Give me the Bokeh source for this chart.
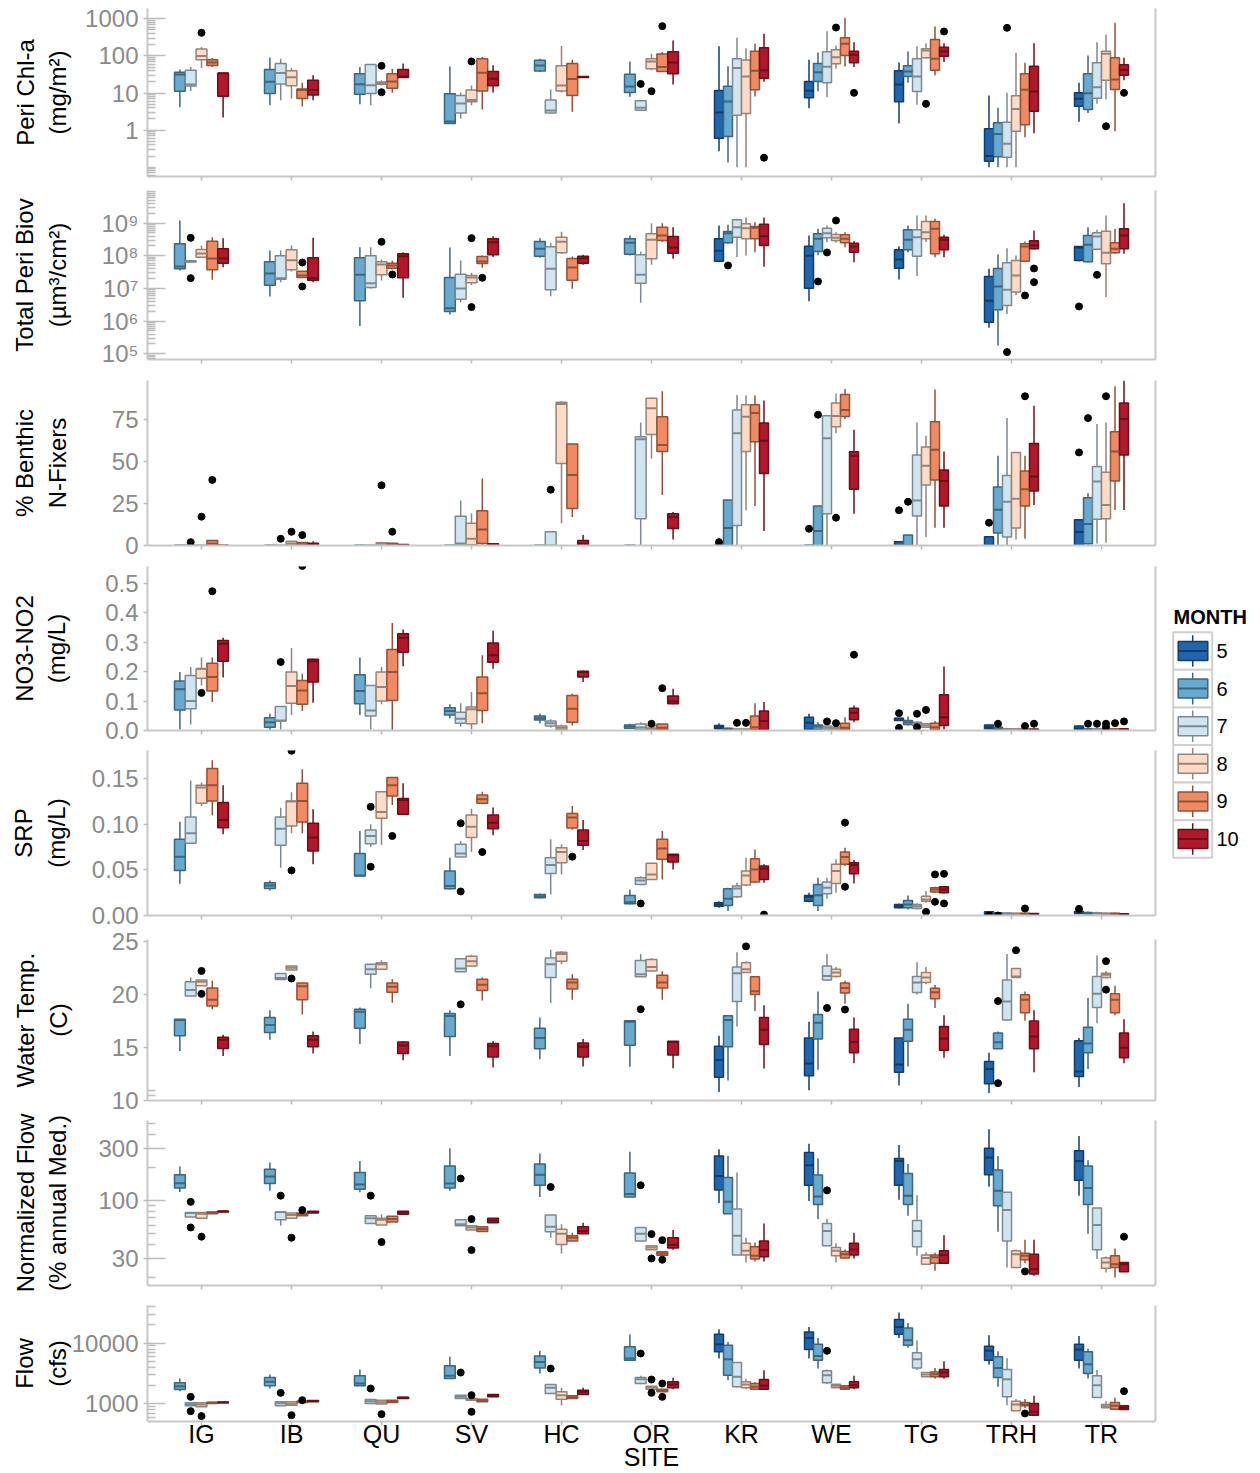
import numpy as np
from bokeh.plotting import figure
from bokeh.layouts import column, row
from bokeh.models import Range1d, FixedTicker, LinearAxis, ColumnDataSource
from bokeh.embed import file_html
from bokeh.resources import INLINE
from bokeh.core.properties import value

SITES = ["IG", "IB", "QU", "SV", "HC", "OR", "KR", "WE", "TG", "TRH", "TR"]
MONTHS = [5, 6, 7, 8, 9, 10]
MONTH_FILL = ["#2166ac", "#67a9cf", "#d1e5f0", "#fddbc7", "#ef8a62", "#b2182b"]

# rows: (site, month, whisker_low, q1, median, q3, whisker_high)
CHLA = [
    ("IG", 6, 4.1, 11.2, 31.5, 36.4, 43), ("IG", 7, 11.4, 15.5, 16.9, 41, 50), ("IG", 8, 47, 79, 99, 153, 173),
    ("IG", 9, 50, 55, 66, 79, 88), ("IG", 10, 2.2, 8.2, 34, 34, 34),
    ("IB", 6, 4.7, 9.7, 20, 42.7, 90), ("IB", 7, 6.4, 17.6, 34.8, 62, 84), ("IB", 8, 7.1, 15.8, 26.5, 40, 47),
    ("IB", 9, 4.3, 7.1, 12.1, 12.9, 19), ("IB", 10, 6.4, 8.9, 12, 22, 30),
    ("QU", 6, 5.0, 9.3, 17.2, 33, 50), ("QU", 7, 4.7, 9.7, 16.2, 59, 59), ("QU", 8, 16, 17.2, 18.7, 19.9, 22),
    ("QU", 9, 10.1, 13.5, 20.3, 33, 45), ("QU", 10, 26, 26, 28, 42.7, 62),
    ("SV", 6, 1.45, 1.5, 1.7, 9.5, 52), ("SV", 7, 2.06, 2.9, 5.2, 8.5, 10.3), ("SV", 8, 4.7, 5.8, 6.5, 12.1, 16),
    ("SV", 9, 3.6, 11.4, 35, 84, 93), ("SV", 10, 10.3, 15.6, 24.4, 38, 56),
    ("HC", 6, 37, 39, 55, 76, 84), ("HC", 7, 2.75, 2.87, 3.38, 6.5, 12.4), ("HC", 8, 10.3, 11.4, 16, 54, 185),
    ("HC", 9, 3.1, 8.5, 24, 62, 79), ("HC", 10, 26, 26, 27, 28, 28),
    ("OR", 6, 7.9, 10.3, 15, 32, 71), ("OR", 7, 3.45, 3.45, 4.0, 6.2, 6.2), ("OR", 8, 41, 45, 71, 84, 115),
    ("OR", 9, 38, 38, 50, 112, 127), ("OR", 10, 17, 33, 66, 130, 262),
    ("KR", 5, 0.27, 0.6, 3.0, 11.6, 182), ("KR", 6, 0.134, 0.67, 5.9, 15.2, 53), ("KR", 7, 0.1, 2.5, 47, 84, 308),
    ("KR", 8, 0.1, 2.8, 28, 77, 161), ("KR", 9, 8, 12.2, 40, 134, 212), ("KR", 10, 20, 25, 41, 165, 394),
    ("WE", 5, 3.9, 7.4, 11.5, 20.4, 79), ("WE", 6, 11.2, 20.4, 36, 62, 124), ("WE", 7, 7.7, 18.8, 51, 129, 463),
    ("WE", 8, 45, 61, 92, 146, 191), ("WE", 9, 52, 103, 212, 308, 1064), ("WE", 10, 50, 65, 107, 134, 234),
    ("TG", 5, 1.5, 5.8, 17, 40, 66), ("TG", 6, 19, 28, 38, 54, 131), ("TG", 7, 4.8, 11, 28, 84, 182),
    ("TG", 8, 85, 89, 140, 155, 220), ("TG", 9, 30, 41, 84, 277, 620), ("TG", 10, 68, 98, 131, 172, 220),
    ("TRH", 5, 0.1, 0.145, 0.2, 1.08, 8.6), ("TRH", 6, 0.1, 0.19, 0.79, 1.57, 4.0), ("TRH", 7, 0.1, 0.186, 0.43, 1.63, 10.1),
    ("TRH", 8, 0.1, 0.93, 3.7, 8.4, 121), ("TRH", 9, 0.64, 1.39, 12.2, 33, 65), ("TRH", 10, 0.82, 3.2, 11, 53, 220),
    ("TR", 5, 1.67, 4.4, 7, 10.1, 18.8), ("TR", 6, 2.9, 3.6, 9.9, 33, 103), ("TR", 7, 5.1, 7.2, 14.3, 65, 234),
    ("TR", 8, 6.7, 22, 114, 134, 370), ("TR", 9, 0.93, 12.4, 23, 89, 780), ("TR", 10, 22, 30, 42, 58, 89),
]
CHLA_OUT = [
    ("IG", 8, 420), ("QU", 8, 54), ("QU", 8, 10.5), ("SV", 8, 71), ("OR", 7, 17.6), ("OR", 8, 11.2),
    ("OR", 9, 635), ("KR", 10, 0.18), ("WE", 8, 582), ("WE", 10, 10.1), ("TG", 8, 5.1), ("TG", 10, 455),
    ("TRH", 7, 572), ("TR", 8, 1.27), ("TR", 10, 10.1),
]

# biovolume given as log10(um3/cm2)
BIOV_LOG10 = [
    ("IG", 6, 7.551, 7.602, 7.673, 8.367, 9.082), ("IG", 7, 7.81, 7.81, 7.837, 7.85, 7.85),
    ("IG", 8, 7.93, 7.959, 8.071, 8.194, 8.316), ("IG", 9, 7.265, 7.571, 7.918, 8.449, 8.571),
    ("IG", 10, 7.653, 7.776, 7.918, 8.214, 8.541),
    ("IB", 6, 6.755, 7.102, 7.459, 7.816, 8.163), ("IB", 7, 7.194, 7.286, 7.316, 8.0, 8.163),
    ("IB", 8, 7.52, 7.571, 7.867, 8.184, 8.316), ("IB", 9, 7.337, 7.337, 7.398, 7.531, 7.531),
    ("IB", 10, 7.194, 7.255, 7.316, 7.939, 8.551),
    ("QU", 6, 5.847, 6.622, 7.418, 7.939, 8.265), ("QU", 7, 6.99, 7.031, 7.163, 8.0, 8.265),
    ("QU", 8, 7.245, 7.418, 7.735, 7.816, 7.888), ("QU", 9, 7.58, 7.622, 7.704, 7.776, 7.847),
    ("QU", 10, 6.714, 7.327, 7.99, 8.061, 8.112),
    ("SV", 6, 6.204, 6.296, 6.398, 7.337, 8.255), ("SV", 7, 6.58, 6.673, 7.0, 7.439, 7.857),
    ("SV", 8, 7.1, 7.173, 7.337, 7.398, 7.48), ("SV", 9, 7.633, 7.765, 7.827, 7.98, 8.01),
    ("SV", 10, 7.96, 8.031, 8.418, 8.52, 8.602),
    ("HC", 6, 7.94, 7.99, 8.214, 8.439, 8.541), ("HC", 7, 6.765, 6.959, 7.602, 8.276, 8.398),
    ("HC", 8, 8.06, 8.092, 8.429, 8.571, 8.735), ("HC", 9, 6.99, 7.255, 7.643, 7.918, 7.98),
    ("HC", 10, 7.73, 7.776, 7.929, 7.99, 8.03),
    ("OR", 6, 8.01, 8.051, 8.398, 8.52, 8.62), ("OR", 7, 6.561, 7.163, 7.418, 8.031, 8.133),
    ("OR", 8, 7.724, 7.908, 8.49, 8.673, 9.0), ("OR", 9, 8.42, 8.469, 8.622, 8.878, 9.0),
    ("OR", 10, 7.908, 8.082, 8.255, 8.592, 8.878),
    ("KR", 5, 7.8, 7.837, 8.153, 8.52, 8.929), ("KR", 6, 8.367, 8.398, 8.694, 8.745, 8.949),
    ("KR", 7, 7.96, 8.571, 8.878, 9.102, 9.133), ("KR", 8, 8.01, 8.52, 8.847, 8.98, 9.184),
    ("KR", 9, 8.11, 8.52, 8.857, 8.898, 9.03), ("KR", 10, 7.663, 8.316, 8.602, 8.969, 9.173),
    ("WE", 5, 6.612, 7.01, 8.0, 8.296, 8.622), ("WE", 6, 8.02, 8.133, 8.52, 8.673, 8.827),
    ("WE", 7, 8.42, 8.551, 8.694, 8.847, 8.929), ("WE", 8, 8.4, 8.469, 8.551, 8.653, 8.72),
    ("WE", 9, 8.265, 8.398, 8.52, 8.643, 8.724), ("WE", 10, 7.806, 8.112, 8.286, 8.388, 8.449),
    ("TG", 5, 7.276, 7.622, 7.888, 8.184, 8.296), ("TG", 6, 8.11, 8.184, 8.49, 8.796, 8.929),
    ("TG", 7, 7.378, 7.99, 8.571, 8.796, 9.235), ("TG", 8, 8.42, 8.52, 8.724, 9.051, 9.235),
    ("TG", 9, 7.959, 8.061, 8.827, 9.051, 9.133), ("TG", 10, 7.959, 8.184, 8.49, 8.571, 8.643),
    ("TRH", 5, 5.796, 5.969, 6.622, 7.367, 7.602), ("TRH", 6, 5.255, 6.347, 7.061, 7.612, 8.041),
    ("TRH", 7, 6.22, 6.48, 6.959, 7.786, 8.235), ("TRH", 8, 6.79, 6.888, 7.398, 7.857, 8.01),
    ("TRH", 9, 7.8, 7.837, 8.286, 8.367, 8.44), ("TRH", 10, 8.19, 8.214, 8.316, 8.459, 8.776),
    ("TR", 5, 7.83, 7.857, 8.255, 8.286, 8.286), ("TR", 6, 7.79, 7.816, 8.337, 8.622, 8.878),
    ("TR", 7, 8.17, 8.204, 8.592, 8.704, 8.8), ("TR", 8, 6.735, 7.755, 8.092, 8.755, 9.235),
    ("TR", 9, 8.06, 8.092, 8.214, 8.398, 8.827), ("TR", 10, 8.061, 8.214, 8.622, 8.827, 9.612),
]
BIOV_OUT_LOG10 = [
    ("IG", 7, 8.551), ("IG", 7, 7.316), ("IB", 9, 7.796), ("IB", 9, 7.061), ("QU", 8, 8.429), ("QU", 9, 7.429),
    ("SV", 8, 6.429), ("SV", 8, 8.541), ("SV", 9, 7.327), ("KR", 6, 7.704), ("WE", 6, 7.214), ("WE", 7, 8.102),
    ("WE", 8, 9.082), ("TRH", 7, 5.051), ("TRH", 9, 6.786), ("TRH", 10, 7.612), ("TRH", 10, 7.194),
    ("TR", 5, 6.449), ("TR", 7, 7.418),
]

NFIX = [
    ("IG", 6, 0, 0, 0, 0, 0), ("IG", 7, 0, 0, 0, 0, 0), ("IG", 8, 0, 0, 0, 0, 0), ("IG", 9, 0, 0, 1, 3, 3), ("IG", 10, 0, 0, 0, 0, 0),
    ("IB", 6, 0, 0, 0, 0, 0), ("IB", 7, 0, 0, 0, 0, 0), ("IB", 8, 0, 0.4, 1.2, 2.6, 2.6), ("IB", 9, 0, 0.4, 0.8, 1.8, 1.8),
    ("IB", 10, 0, 0.4, 0.8, 1.4, 2.6),
    ("QU", 6, 0, 0, 0, 0, 0), ("QU", 7, 0, 0, 0, 0, 0), ("QU", 8, 0, 0, 1, 1.6, 2.2), ("QU", 9, 0, 0, 0.6, 1.4, 1.4),
    ("QU", 10, 0, 0, 0.3, 0.6, 0.6),
    ("SV", 6, 0, 0, 0, 0, 0), ("SV", 7, 0, 0.4, 1.2, 17.4, 26.9), ("SV", 8, 0, 0.4, 4.0, 13.2, 19.2),
    ("SV", 9, 0, 1.2, 9.6, 20.7, 39.9), ("SV", 10, 0, 0, 0.4, 1.0, 1.0),
    ("HC", 6, 0, 0, 0, 0, 0), ("HC", 7, 0, 0, 0, 8.2, 8.2), ("HC", 8, 13.2, 48.9, 84.4, 85.4, 86),
    ("HC", 9, 17, 22.1, 42.1, 60.6, 60.6), ("HC", 10, 0, 0.2, 1.0, 3.0, 6.2),
    ("OR", 6, 0, 0, 0, 0, 0), ("OR", 7, 0, 16, 63.4, 64.8, 73.4), ("OR", 8, 51.9, 66.2, 81.8, 87.8, 88.2),
    ("OR", 9, 30.1, 56.1, 59.9, 76.8, 92), ("OR", 10, 3.6, 10.2, 17.0, 19.0, 20),
    ("KR", 5, 0, 0, 0, 0, 0), ("KR", 6, 0, 0, 10.4, 27.1, 27.1), ("KR", 7, 0, 12, 67, 80.8, 89.8),
    ("KR", 8, 21, 56.1, 76.8, 84, 89.4), ("KR", 9, 23.5, 61.8, 79, 84, 89.4), ("KR", 10, 8.6, 42.9, 62.4, 73, 86.4),
    ("WE", 5, 0, 0, 0, 0, 0), ("WE", 6, 0, 0, 8.6, 23.5, 23.5), ("WE", 7, 0, 19, 64, 77.4, 78),
    ("WE", 8, 67, 70.8, 77.2, 85, 90.6), ("WE", 9, 75.4, 77, 80.8, 90, 93.4), ("WE", 10, 19, 33.5, 53.5, 55.9, 69),
    ("TG", 5, 0, 0, 0, 2.2, 2.2), ("TG", 6, 0, 0, 0, 6.2, 6.2), ("TG", 7, 0, 17.6, 26.9, 54, 73.4),
    ("TG", 8, 5, 36.1, 47.5, 58.7, 65.4), ("TG", 9, 10.6, 39.1, 57.1, 73.8, 93), ("TG", 10, 10.6, 23.5, 38.5, 45.1, 56),
    ("TRH", 5, 0, 0, 0, 5.2, 5.2), ("TRH", 6, 0, 7.4, 21.3, 34.9, 53.5), ("TRH", 7, 0, 5.0, 26.1, 41.7, 76),
    ("TRH", 8, 3.6, 10.4, 27.9, 55.5, 55.5), ("TRH", 9, 4.0, 23.5, 33.5, 44.5, 53.5), ("TRH", 10, 24.1, 32.5, 41.1, 60.8, 83.4),
    ("TR", 5, 0, 0, 8.0, 15.4, 15.4), ("TR", 6, 0, 1.0, 12.8, 28.5, 31.1), ("TR", 7, 1.2, 15.6, 38.1, 47.1, 72.4),
    ("TR", 8, 1.6, 16, 24.1, 43.7, 73.4), ("TR", 9, 21.1, 38.5, 56.1, 67.8, 95), ("TR", 10, 21.1, 54, 75.4, 85, 98.4),
]
NFIX_OUT = [
    ("IG", 7, 2.0), ("IG", 8, 17.2), ("IG", 9, 39.1), ("IB", 7, 4.0), ("IB", 8, 8.2), ("IB", 9, 6.2),
    ("QU", 8, 35.9), ("QU", 9, 8.2), ("HC", 7, 33.3), ("KR", 5, 2.0), ("WE", 5, 10.0), ("WE", 6, 78.0),
    ("WE", 8, 16.6), ("TG", 5, 21.0), ("TG", 6, 26.1), ("TRH", 5, 13.6), ("TRH", 9, 89.0), ("TR", 5, 55.5),
    ("TR", 6, 76.0), ("TR", 8, 89.0),
]

NO3 = [
    ("IG", 6, 0.003, 0.070, 0.140, 0.168, 0.199), ("IG", 7, 0.020, 0.074, 0.100, 0.187, 0.216),
    ("IG", 8, 0.153, 0.178, 0.210, 0.210, 0.248), ("IG", 9, 0.097, 0.134, 0.182, 0.229, 0.248),
    ("IG", 10, 0.180, 0.236, 0.295, 0.306, 0.316),
    ("IB", 6, 0.0, 0.011, 0.028, 0.043, 0.057), ("IB", 7, 0.003, 0.032, 0.034, 0.082, 0.082),
    ("IB", 8, 0.053, 0.093, 0.151, 0.199, 0.281), ("IB", 9, 0.066, 0.089, 0.136, 0.170, 0.193),
    ("IB", 10, 0.094, 0.165, 0.236, 0.242, 0.244),
    ("QU", 6, 0.053, 0.091, 0.134, 0.190, 0.248), ("QU", 7, 0.003, 0.049, 0.068, 0.153, 0.153),
    ("QU", 8, 0.089, 0.100, 0.148, 0.199, 0.216), ("QU", 9, 0.0, 0.102, 0.199, 0.276, 0.366),
    ("QU", 10, 0.219, 0.266, 0.316, 0.329, 0.344),
    ("SV", 6, 0.042, 0.053, 0.066, 0.077, 0.089), ("SV", 7, 0.014, 0.025, 0.040, 0.062, 0.093),
    ("SV", 8, 0.003, 0.023, 0.072, 0.080, 0.131), ("SV", 9, 0.025, 0.068, 0.127, 0.182, 0.256),
    ("SV", 10, 0.210, 0.232, 0.256, 0.298, 0.339),
    ("HC", 6, 0.025, 0.036, 0.042, 0.049, 0.057), ("HC", 7, 0.009, 0.015, 0.025, 0.032, 0.038),
    ("HC", 8, 0.0, 0.003, 0.009, 0.015, 0.020), ("HC", 9, 0.017, 0.028, 0.074, 0.119, 0.125),
    ("HC", 10, 0.165, 0.182, 0.199, 0.202, 0.204),
    ("OR", 6, 0.006, 0.008, 0.014, 0.019, 0.023), ("OR", 7, 0.0, 0.003, 0.010, 0.022, 0.028),
    ("OR", 8, 0.0, 0.003, 0.008, 0.017, 0.017), ("OR", 9, 0.0, 0.003, 0.009, 0.022, 0.022),
    ("OR", 10, 0.089, 0.091, 0.099, 0.117, 0.142),
    ("KR", 5, 0.003, 0.006, 0.011, 0.017, 0.025), ("KR", 6, 0.002, 0.003, 0.005, 0.008, 0.010),
    ("KR", 7, 0.001, 0.002, 0.003, 0.004, 0.006), ("KR", 8, 0.001, 0.002, 0.003, 0.004, 0.006),
    ("KR", 9, 0.0, 0.003, 0.011, 0.049, 0.093), ("KR", 10, 0.0, 0.003, 0.032, 0.066, 0.097),
    ("WE", 5, 0.0, 0.003, 0.026, 0.045, 0.057), ("WE", 6, 0.0, 0.003, 0.014, 0.019, 0.028),
    ("WE", 7, 0.001, 0.003, 0.009, 0.015, 0.017), ("WE", 8, 0.001, 0.003, 0.005, 0.011, 0.013),
    ("WE", 9, 0.0, 0.003, 0.009, 0.025, 0.045), ("WE", 10, 0.028, 0.037, 0.060, 0.076, 0.085),
    ("TG", 5, 0.034, 0.034, 0.040, 0.042, 0.042), ("TG", 6, 0.017, 0.020, 0.028, 0.034, 0.048),
    ("TG", 7, 0.015, 0.017, 0.023, 0.028, 0.030), ("TG", 8, 0.009, 0.011, 0.017, 0.023, 0.025),
    ("TG", 9, 0.0, 0.003, 0.011, 0.025, 0.032), ("TG", 10, 0.003, 0.017, 0.045, 0.122, 0.218),
    ("TRH", 5, 0.003, 0.006, 0.011, 0.019, 0.020), ("TRH", 6, 0.002, 0.003, 0.009, 0.011, 0.011),
    ("TRH", 7, 0.001, 0.003, 0.004, 0.006, 0.008), ("TRH", 8, 0.001, 0.002, 0.004, 0.005, 0.007),
    ("TRH", 9, 0.001, 0.002, 0.003, 0.004, 0.006), ("TRH", 10, 0.001, 0.002, 0.003, 0.004, 0.006),
    ("TR", 5, 0.002, 0.003, 0.008, 0.015, 0.017), ("TR", 6, 0.001, 0.003, 0.004, 0.005, 0.006),
    ("TR", 7, 0.001, 0.003, 0.004, 0.005, 0.006), ("TR", 8, 0.001, 0.003, 0.004, 0.005, 0.006),
    ("TR", 9, 0.001, 0.003, 0.004, 0.005, 0.006), ("TR", 10, 0.001, 0.003, 0.004, 0.005, 0.006),
]
NO3_OUT = [
    ("IG", 8, 0.128), ("IG", 9, 0.474), ("IB", 7, 0.233), ("IB", 9, 0.560), ("OR", 8, 0.023), ("OR", 9, 0.144),
    ("KR", 7, 0.026), ("KR", 8, 0.026), ("WE", 7, 0.031), ("WE", 8, 0.025), ("WE", 10, 0.258),
    ("TG", 5, 0.059), ("TG", 5, 0.009), ("TG", 7, 0.011), ("TG", 7, 0.057), ("TG", 8, 0.070),
    ("TRH", 6, 0.023), ("TRH", 9, 0.015), ("TRH", 10, 0.023), ("TR", 6, 0.023), ("TR", 7, 0.023),
    ("TR", 8, 0.023), ("TR", 8, 0.011), ("TR", 9, 0.025), ("TR", 10, 0.031),
]

SRP = [
    ("IG", 6, 0.0348, 0.0494, 0.0644, 0.0834, 0.1028), ("IG", 7, 0.079, 0.079, 0.090, 0.1079, 0.1475),
    ("IG", 8, 0.120, 0.1229, 0.1401, 0.1427, 0.1456), ("IG", 9, 0.1098, 0.1255, 0.1427, 0.161, 0.170),
    ("IG", 10, 0.0889, 0.0962, 0.1046, 0.1237, 0.1427),
    ("IB", 6, 0.0274, 0.0296, 0.0329, 0.0359, 0.0384), ("IB", 7, 0.0523, 0.0768, 0.0951, 0.1079, 0.118),
    ("IB", 8, 0.090, 0.0981, 0.1248, 0.1255, 0.135), ("IB", 9, 0.090, 0.1025, 0.1255, 0.1449, 0.1603),
    ("IB", 10, 0.056, 0.0706, 0.0853, 0.101, 0.1164),
    ("QU", 6, 0.0432, 0.0432, 0.0439, 0.068, 0.0926), ("QU", 7, 0.075, 0.0787, 0.0871, 0.0937, 0.100),
    ("QU", 8, 0.0772, 0.1065, 0.1134, 0.1354, 0.1354), ("QU", 9, 0.1211, 0.131, 0.1427, 0.1511, 0.1511),
    ("QU", 10, 0.1102, 0.1109, 0.1266, 0.128, 0.1449),
    ("SV", 6, 0.0286, 0.0293, 0.0322, 0.0487, 0.0633), ("SV", 7, 0.064, 0.064, 0.068, 0.0779, 0.0816),
    ("SV", 8, 0.0695, 0.0853, 0.0973, 0.1101, 0.117), ("SV", 9, 0.1218, 0.1229, 0.1273, 0.1321, 0.1354),
    ("SV", 10, 0.0878, 0.0951, 0.1017, 0.1101, 0.1182),
    ("HC", 6, 0.019, 0.0194, 0.0212, 0.023, 0.024), ("HC", 7, 0.023, 0.0461, 0.0552, 0.0633, 0.0834),
    ("HC", 8, 0.045, 0.0578, 0.0695, 0.0743, 0.078), ("HC", 9, 0.094, 0.0959, 0.1072, 0.1116, 0.120),
    ("HC", 10, 0.0717, 0.0768, 0.0816, 0.0937, 0.1046),
    ("OR", 6, 0.012, 0.0128, 0.0146, 0.022, 0.0285), ("OR", 7, 0.0333, 0.034, 0.0384, 0.0413, 0.043),
    ("OR", 8, 0.0388, 0.0395, 0.045, 0.0571, 0.0578), ("OR", 9, 0.0395, 0.0615, 0.0735, 0.0834, 0.0926),
    ("OR", 10, 0.0505, 0.0585, 0.0659, 0.067, 0.067),
    ("KR", 5, 0.0084, 0.0102, 0.0121, 0.0139, 0.0157), ("KR", 6, 0.0048, 0.011, 0.0183, 0.0293, 0.0304),
    ("KR", 7, 0.0194, 0.0205, 0.0296, 0.0322, 0.0359), ("KR", 8, 0.032, 0.0333, 0.0439, 0.0487, 0.0633),
    ("KR", 9, 0.0359, 0.0366, 0.0505, 0.0622, 0.0724), ("KR", 10, 0.0359, 0.0395, 0.0512, 0.0542, 0.056),
    ("WE", 5, 0.0146, 0.0157, 0.0205, 0.022, 0.0249), ("WE", 6, 0.0048, 0.011, 0.0223, 0.034, 0.0413),
    ("WE", 7, 0.0183, 0.0238, 0.0304, 0.0366, 0.0413), ("WE", 8, 0.0249, 0.0351, 0.0487, 0.056, 0.0615),
    ("WE", 9, 0.0542, 0.056, 0.064, 0.0695, 0.0743), ("WE", 10, 0.0351, 0.0457, 0.0552, 0.0578, 0.0607),
    ("TG", 5, 0.0077, 0.0084, 0.0102, 0.0121, 0.0132), ("TG", 6, 0.0066, 0.0084, 0.0121, 0.0165, 0.022),
    ("TG", 7, 0.0066, 0.0077, 0.0102, 0.0121, 0.0135), ("TG", 8, 0.0139, 0.0157, 0.0176, 0.0212, 0.0267),
    ("TG", 9, 0.0249, 0.0256, 0.0285, 0.0304, 0.0315), ("TG", 10, 0.0241, 0.0249, 0.0285, 0.0315, 0.0322),
    ("TRH", 5, 0.0008, 0.0011, 0.003, 0.004, 0.0045), ("TRH", 6, 0.0008, 0.0015, 0.0025, 0.003, 0.0035),
    ("TRH", 7, 0.0008, 0.0015, 0.002, 0.0028, 0.0033), ("TRH", 8, 0.0008, 0.0012, 0.002, 0.0026, 0.003),
    ("TRH", 9, 0.0006, 0.001, 0.0018, 0.0024, 0.003), ("TRH", 10, 0.0006, 0.001, 0.0015, 0.0022, 0.0028),
    ("TR", 5, 0.0015, 0.0022, 0.003, 0.0044, 0.005), ("TR", 6, 0.001, 0.0018, 0.0025, 0.0032, 0.0045),
    ("TR", 7, 0.001, 0.0018, 0.0025, 0.003, 0.004), ("TR", 8, 0.0008, 0.0012, 0.002, 0.0026, 0.0032),
    ("TR", 9, 0.0006, 0.001, 0.0018, 0.0026, 0.003), ("TR", 10, 0.0006, 0.001, 0.0015, 0.002, 0.0026),
]
SRP_OUT = [
    ("IB", 8, 0.1804), ("IB", 8, 0.0494), ("QU", 7, 0.119), ("QU", 7, 0.0534), ("QU", 9, 0.0871),
    ("SV", 7, 0.0263), ("SV", 7, 0.101), ("SV", 9, 0.0695), ("HC", 9, 0.0644), ("OR", 7, 0.0132),
    ("KR", 10, 0.001), ("WE", 9, 0.0315), ("WE", 9, 0.1017), ("TG", 8, 0.004), ("TG", 9, 0.045),
    ("TG", 9, 0.015), ("TG", 10, 0.0457), ("TG", 10, 0.0132), ("TRH", 5, 0.0), ("TRH", 6, 0.0),
    ("TRH", 9, 0.0077), ("TR", 5, 0.0073),
]

TEMP = [
    ("IG", 6, 14.64, 16.09, 17.58, 17.64, 17.64), ("IG", 7, 19.84, 19.84, 20.42, 21.20, 21.6),
    ("IG", 8, 20.82, 20.82, 21.20, 21.35, 21.35), ("IG", 9, 18.60, 18.91, 19.49, 20.61, 21.29),
    ("IG", 10, 14.18, 14.89, 15.72, 15.94, 16.19),
    ("IB", 6, 15.72, 16.40, 17.11, 17.82, 18.51), ("IB", 7, 21.41, 21.41, 21.54, 21.97, 21.97),
    ("IB", 8, 22.31, 22.31, 22.53, 22.68, 22.68), ("IB", 9, 18.1, 19.50, 20.76, 21.07, 21.07),
    ("IB", 10, 14.42, 15.04, 15.72, 16.09, 16.5),
    ("QU", 6, 15.32, 16.80, 18.35, 18.60, 18.75), ("QU", 7, 20.58, 21.91, 22.37, 22.84, 22.84),
    ("QU", 8, 22.37, 22.37, 22.84, 22.99, 23.24), ("QU", 9, 19.22, 20.21, 20.73, 21.07, 21.44),
    ("QU", 10, 13.77, 14.42, 15.17, 15.51, 15.6),
    ("SV", 6, 14.18, 16.03, 17.95, 18.20, 18.5), ("SV", 7, 22.15, 22.15, 22.46, 23.36, 23.36),
    ("SV", 8, 22.68, 22.68, 23.14, 23.61, 23.76), ("SV", 9, 19.43, 20.36, 20.92, 21.44, 21.6),
    ("SV", 10, 13.09, 14.08, 15.10, 15.35, 15.57),
    ("HC", 6, 13.87, 14.86, 15.88, 16.80, 17.82), ("HC", 7, 19.19, 21.6, 22.84, 23.45, 24.23),
    ("HC", 8, 22.84, 23.14, 23.82, 23.98, 24.07), ("HC", 9, 19.50, 20.51, 21.13, 21.44, 21.91),
    ("HC", 10, 13.19, 14.08, 15.04, 15.41, 15.78),
    ("OR", 6, 13.15, 15.20, 17.42, 17.52, 17.52), ("OR", 7, 21.66, 21.66, 21.91, 23.21, 23.82),
    ("OR", 8, 22.22, 22.22, 22.59, 23.30, 23.45), ("OR", 9, 19.50, 20.61, 21.13, 21.81, 22.2),
    ("OR", 10, 13.03, 14.27, 15.51, 15.57, 15.57),
    ("KR", 5, 10.77, 12.17, 13.80, 15.10, 16.09), ("KR", 6, 11.86, 15.04, 17.58, 17.98, 17.98),
    ("KR", 7, 16.96, 19.34, 22.0, 22.59, 23.98), ("KR", 8, 22.06, 22.06, 22.37, 22.99, 23.14),
    ("KR", 9, 18.44, 19.99, 20.30, 21.66, 21.66), ("KR", 10, 13.0, 15.26, 16.65, 17.82, 18.97),
    ("WE", 5, 10.93, 12.32, 13.46, 15.88, 17.42), ("WE", 6, 12.88, 15.78, 17.33, 18.10, 20.27),
    ("WE", 7, 21.29, 21.35, 21.75, 22.68, 23.82), ("WE", 8, 21.6, 21.69, 22.06, 22.37, 22.6),
    ("WE", 9, 19.12, 20.14, 20.61, 21.07, 21.29), ("WE", 10, 13.49, 14.48, 15.51, 16.71, 17.82),
    ("TG", 5, 11.39, 12.63, 13.37, 15.88, 15.88), ("TG", 6, 13.19, 15.57, 16.65, 17.64, 19.12),
    ("TG", 7, 20.0, 20.18, 21.13, 21.69, 23.05), ("TG", 8, 20.97, 21.13, 21.60, 22.06, 22.6),
    ("TG", 9, 18.72, 19.59, 20.21, 20.58, 20.9), ("TG", 10, 14.02, 14.73, 15.81, 16.96, 18.04),
    ("TRH", 5, 10.68, 11.55, 12.94, 13.65, 14.48), ("TRH", 6, 14.86, 14.86, 15.47, 16.34, 16.5),
    ("TRH", 7, 17.52, 17.58, 19.34, 21.35, 23.82), ("TRH", 8, 21.6, 21.60, 21.69, 22.46, 22.46),
    ("TRH", 9, 17.52, 18.26, 19.50, 19.96, 20.27), ("TRH", 10, 12.63, 14.86, 16.03, 17.48, 18.51),
    ("TR", 5, 11.24, 12.23, 12.72, 15.63, 15.88), ("TR", 6, 12.94, 14.48, 15.35, 16.90, 19.65),
    ("TR", 7, 17.27, 18.75, 20.05, 21.69, 23.67), ("TR", 8, 21.5, 21.6, 21.85, 22.0, 22.22),
    ("TR", 9, 18.04, 18.26, 19.50, 20.05, 20.82), ("TR", 10, 13.49, 14.02, 14.95, 16.34, 17.64),
]
TEMP_OUT = [
    ("IG", 8, 22.22), ("IG", 8, 20.05), ("IB", 8, 21.5), ("SV", 7, 19.06), ("OR", 7, 18.60), ("KR", 8, 24.54),
    ("WE", 7, 18.72), ("WE", 9, 18.57), ("TRH", 6, 11.61), ("TRH", 6, 19.37), ("TRH", 8, 24.17),
    ("TR", 8, 23.14), ("TR", 8, 20.45),
]

NFLOW = [
    ("IG", 6, 120, 130, 144, 172, 204), ("IG", 7, 71, 71, 77, 78, 78), ("IG", 8, 69, 69, 76, 78, 78),
    ("IG", 9, 76, 76, 78, 79, 79), ("IG", 10, 79, 79, 80, 80, 80),
    ("IB", 6, 123, 143, 166, 193, 222), ("IB", 7, 59, 67, 79, 79, 79), ("IB", 8, 69, 69, 74, 77, 77),
    ("IB", 9, 73, 73, 75, 77, 77), ("IB", 10, 77, 77, 79, 80, 80),
    ("QU", 6, 119, 127, 140, 180, 230), ("QU", 7, 62, 62, 69, 73, 73), ("QU", 8, 60, 60, 67, 69, 75),
    ("QU", 9, 64, 64, 68, 72, 72), ("QU", 10, 75, 75, 78, 80, 80),
    ("SV", 6, 123, 130, 143, 207, 300), ("SV", 7, 59, 59, 61, 67, 67), ("SV", 8, 54, 54, 57, 59, 59),
    ("SV", 9, 52.4, 52.4, 55.3, 58, 58), ("SV", 10, 63, 63, 66, 69, 69),
    ("HC", 6, 108, 138, 172, 215, 268), ("HC", 7, 46, 52, 58, 74, 74), ("HC", 8, 33, 40, 50, 55, 61),
    ("HC", 9, 43, 43, 46, 48, 51), ("HC", 10, 50, 50, 53, 58, 63),
    ("OR", 6, 108, 108, 115, 178, 278), ("OR", 7, 43, 43, 50, 57, 57), ("OR", 8, 35.7, 35.7, 37.5, 38.8, 38.8),
    ("OR", 9, 31.9, 31.9, 33, 34.3, 34.3), ("OR", 10, 35.7, 37, 39.6, 46, 54),
    ("KR", 5, 95, 125, 168, 255, 294), ("KR", 6, 76, 76, 97.5, 162, 255), ("KR", 7, 32, 32, 48, 84, 180),
    ("KR", 8, 27.4, 32, 35, 41, 46), ("KR", 9, 28, 29.4, 31.5, 38, 41.7), ("KR", 10, 28, 30.8, 35.5, 43, 62),
    ("WE", 5, 99.5, 138, 210, 274, 330), ("WE", 6, 68, 92, 109, 171, 242), ("WE", 7, 38.8, 38.8, 53, 62, 68),
    ("WE", 8, 27.4, 31.5, 35, 37.5, 41), ("WE", 9, 29.7, 30, 32.6, 34.5, 36), ("WE", 10, 29.7, 32, 36, 41, 51),
    ("TG", 5, 102, 138, 230, 242, 321), ("TG", 6, 73, 92, 111, 177, 215), ("TG", 7, 31.5, 38, 53, 66, 112),
    ("TG", 8, 26.4, 26.4, 30, 32, 34), ("TG", 9, 23, 27, 30.5, 32, 33.5), ("TG", 10, 27, 27, 32, 35, 48.5),
    ("TRH", 5, 134, 172, 247, 300, 447), ("TRH", 6, 52, 90, 123, 190, 255), ("TRH", 7, 24.7, 43, 82, 119, 119),
    ("TRH", 8, 24.7, 24.7, 32.6, 35, 36), ("TRH", 9, 27, 29, 31.5, 33.3, 44), ("TRH", 10, 20.7, 21.5, 23.8, 32.6, 44),
    ("TR", 5, 111, 153, 230, 284, 388), ("TR", 6, 50, 92, 130, 207, 233), ("TR", 7, 29.4, 35.7, 60, 85.5, 85.5),
    ("TR", 8, 22.2, 24.3, 27.4, 30, 31), ("TR", 9, 20, 24.7, 26.4, 31.5, 36.7), ("TR", 10, 22.5, 22.5, 26.4, 27.4, 27.4),
]
NFLOW_OUT = [
    ("IG", 7, 97.5), ("IG", 7, 57), ("IG", 8, 47), ("IB", 7, 111), ("IB", 8, 46), ("IB", 9, 82),
    ("QU", 7, 111), ("QU", 8, 42), ("SV", 7, 159), ("SV", 8, 68), ("SV", 8, 35.5), ("HC", 7, 133),
    ("OR", 7, 138), ("OR", 8, 49.6), ("OR", 8, 29.8), ("OR", 9, 43.7), ("OR", 9, 29), ("WE", 7, 124),
    ("TRH", 9, 22.7), ("TR", 10, 47),
]

FLOW = [
    ("IG", 6, 1618, 1722, 1954, 2218, 2618), ("IG", 7, 927, 927, 988, 1038, 1038), ("IG", 8, 893, 893, 975, 1038, 1038),
    ("IG", 9, 1011, 1011, 1040, 1064, 1064), ("IG", 10, 1038, 1038, 1055, 1070, 1070),
    ("IB", 6, 1790, 1982, 2307, 2716, 3048), ("IB", 7, 927, 927, 1025, 1080, 1080), ("IB", 8, 950, 950, 1005, 1080, 1080),
    ("IB", 9, 1052, 1052, 1080, 1107, 1107), ("IB", 10, 1080, 1080, 1110, 1134, 1134),
    ("QU", 6, 1982, 1982, 2163, 2896, 3683), ("QU", 7, 1011, 1011, 1107, 1177, 1177), ("QU", 8, 989, 989, 1064, 1146, 1146),
    ("QU", 9, 1052, 1052, 1107, 1146, 1146), ("QU", 10, 1225, 1225, 1260, 1289, 1289),
    ("SV", 6, 2618, 2618, 2896, 4230, 5957), ("SV", 7, 1225, 1225, 1303, 1390, 1390), ("SV", 8, 1146, 1146, 1190, 1225, 1225),
    ("SV", 9, 1080, 1080, 1134, 1190, 1190), ("SV", 10, 1303, 1303, 1355, 1426, 1426),
    ("HC", 6, 3162, 3917, 4921, 6180, 7485), ("HC", 7, 1479, 1479, 1837, 2084, 2084), ("HC", 8, 950, 1194, 1390, 1577, 1837),
    ("HC", 9, 1225, 1225, 1289, 1355, 1355), ("HC", 10, 1426, 1426, 1577, 1679, 1837),
    ("OR", 6, 5248, 5248, 5585, 8710, 13900), ("OR", 7, 2100, 2163, 2553, 2716, 2900), ("OR", 8, 1746, 1746, 1858, 1954, 1954),
    ("OR", 9, 1577, 1577, 1679, 1746, 1746), ("OR", 10, 1746, 1837, 2084, 2307, 2700),
    ("KR", 5, 5585, 7200, 9630, 14070, 17000), ("KR", 6, 2455, 2972, 5445, 9270, 10520), ("KR", 7, 1860, 1905, 2786, 4800, 4800),
    ("KR", 8, 1746, 1837, 2084, 2307, 2600), ("KR", 9, 1746, 1746, 1905, 2163, 2300), ("KR", 10, 1746, 1746, 1982, 2518, 3590),
    ("WE", 5, 5585, 7870, 12240, 15380, 18580), ("WE", 6, 3819, 5248, 6180, 9630, 12240), ("WE", 7, 2100, 2218, 2972, 3499, 3700),
    ("WE", 8, 1837, 1837, 1982, 2109, 2109), ("WE", 9, 1746, 1746, 1837, 1982, 1982), ("WE", 10, 1746, 1837, 2032, 2307, 2896),
    ("TG", 5, 12240, 14070, 18580, 24550, 32000), ("TG", 6, 8500, 9270, 11200, 17900, 21600), ("TG", 7, 3600, 3917, 5445, 6930, 11200),
    ("TG", 8, 2786, 2786, 3048, 3283, 3283), ("TG", 9, 2600, 2786, 3083, 3365, 3900), ("TG", 10, 2600, 2786, 3283, 3683, 5047),
    ("TRH", 5, 4450, 5248, 7485, 8930, 13550), ("TRH", 6, 1905, 2716, 3917, 5957, 7380), ("TRH", 7, 950, 1303, 2553, 3683, 5728),
    ("TRH", 8, 767, 767, 975, 1107, 1200), ("TRH", 9, 850, 927, 975, 1052, 1200), ("TRH", 10, 650, 650, 738, 1011, 1355),
    ("TR", 5, 3819, 5248, 7870, 9630, 13200), ("TR", 6, 2618, 3162, 4510, 7200, 8170), ("TR", 7, 1250, 1271, 2032, 2896, 3600),
    ("TR", 8, 850, 859, 916, 975, 1100), ("TR", 9, 800, 817, 927, 1052, 1256), ("TR", 10, 807, 807, 859, 927, 927),
]
FLOW_OUT = [
    ("IG", 7, 1303), ("IG", 7, 757), ("IG", 8, 627), ("IB", 7, 1517), ("IB", 8, 650), ("IB", 9, 1148),
    ("QU", 7, 1790), ("QU", 8, 676), ("SV", 7, 3283), ("SV", 8, 1390), ("SV", 8, 738), ("HC", 7, 3819),
    ("OR", 7, 6760), ("OR", 8, 2518), ("OR", 8, 1517), ("OR", 9, 2163), ("OR", 9, 1303), ("WE", 7, 7485),
    ("TRH", 9, 693), ("TR", 10, 1618),
]

BIOV = [(s, m, *[10.0 ** v for v in vals]) for s, m, *vals in BIOV_LOG10]
BIOV_OUT = [(s, m, 10.0 ** v) for s, m, v in BIOV_OUT_LOG10]

FONT = "Liberation Sans"
AXIS_GRAY = "#c8c8c8"
TICK_GRAY = "#bdbdbd"
LABEL_GRAY = "#8a8a8a"
GROUP_W = 0.6
PANEL_W = 1160


def darken(hex_color, f=0.6):
    r, g, b = (int(hex_color[i:i + 2], 16) for i in (1, 3, 5))
    return "#%02x%02x%02x" % (int(r * f), int(g * f), int(b * f))


FILL = dict(zip(MONTHS, MONTH_FILL))
EDGE = {m: darken(c) for m, c in FILL.items()}


def box_sources(rows, outliers):
    months_at = {}
    for r in rows:
        months_at.setdefault(r[0], set()).add(r[1])

    def slot(site, month):
        ms = sorted(months_at[site])
        n = len(ms)
        w = GROUP_W / n
        return SITES.index(site) + 1 - GROUP_W / 2 + (ms.index(month) + 0.5) * w, w

    cols = {k: [] for k in ("x", "w", "x0", "x1", "lo", "q1", "med", "q3", "hi", "fill", "line")}
    for site, month, lo, q1, med, q3, hi in rows:
        x, w = slot(site, month)
        cols["x"].append(x); cols["w"].append(w)
        cols["x0"].append(x - w / 2); cols["x1"].append(x + w / 2)
        cols["lo"].append(lo); cols["q1"].append(q1); cols["med"].append(med)
        cols["q3"].append(q3); cols["hi"].append(hi)
        cols["fill"].append(FILL[month]); cols["line"].append(EDGE[month])
    ox, oy = [], []
    for site, month, v in outliers:
        x, _ = slot(site, month)
        ox.append(x); oy.append(v)
    return ColumnDataSource(cols), ColumnDataSource(dict(x=ox, y=oy))


def panel(rows, outliers, height, top, bottom, y_range, log, title, ticks, labels,
          minor=(), tick_in=0, minor_in=0, title_standoff=20, show_x=False):
    p = figure(width=PANEL_W, height=height, x_range=Range1d(0.4, 11.6), y_range=y_range,
               y_axis_type="log" if log else "linear", output_backend="svg", toolbar_location=None,
               min_border_left=147, min_border_right=5, min_border_top=top, min_border_bottom=bottom,
               outline_line_color=None, background_fill_color="white", border_fill_color="white")
    p.grid.visible = False

    ya = p.yaxis[0]
    ya.ticker = FixedTicker(ticks=list(ticks), minor_ticks=list(minor))
    ya.major_label_overrides = {t: l for t, l in zip(ticks, labels)}
    ya.axis_line_color = AXIS_GRAY
    ya.axis_line_width = 2
    ya.major_tick_line_color = TICK_GRAY
    ya.major_tick_line_width = 1.5
    ya.major_tick_in = tick_in
    ya.major_tick_out = 4
    ya.minor_tick_line_color = TICK_GRAY if minor else None
    ya.minor_tick_line_width = 1.5
    ya.minor_tick_in = minor_in
    ya.minor_tick_out = 0
    ya.major_label_text_font = FONT
    ya.major_label_text_font_size = "24px"
    ya.major_label_text_color = LABEL_GRAY
    ya.major_label_standoff = 5
    ya.axis_label = title
    ya.axis_label_text_font = FONT
    ya.axis_label_text_font_size = "24px"
    ya.axis_label_text_font_style = "normal"
    ya.axis_label_text_color = "black"
    ya.axis_label_standoff = title_standoff

    xa = p.xaxis[0]
    xa.ticker = FixedTicker(ticks=list(range(1, len(SITES) + 1)))
    xa.axis_line_color = AXIS_GRAY
    xa.axis_line_width = 2
    xa.major_tick_line_color = TICK_GRAY
    xa.major_tick_line_width = 1.5
    xa.major_tick_in = 0
    xa.major_tick_out = 4
    xa.minor_tick_line_color = None
    if show_x:
        xa.major_label_overrides = {i + 1: s for i, s in enumerate(SITES)}
        xa.major_label_text_font = FONT
        xa.major_label_text_font_size = "25px"
        xa.major_label_text_color = "black"
        xa.major_label_standoff = -6
        xa.axis_label = "SITE"
        xa.axis_label_text_font = FONT
        xa.axis_label_text_font_size = "25px"
        xa.axis_label_text_font_style = "normal"
        xa.axis_label_text_color = "black"
        xa.axis_label_standoff = -8
    else:
        xa.major_label_overrides = {i + 1: "" for i in range(len(SITES))}
        xa.major_label_text_font_size = "0px"
        xa.major_label_standoff = 0

    right = LinearAxis(ticker=FixedTicker(ticks=[]), axis_line_color=AXIS_GRAY, axis_line_width=2,
                       major_tick_line_color=None, minor_tick_line_color=None,
                       major_label_text_font_size="0px", major_label_standoff=0)
    p.add_layout(right, "right")

    src, out = box_sources(rows, outliers)
    p.segment(x0="x", x1="x", y0="q3", y1="hi", source=src, line_color="line", line_width=1.5)
    p.segment(x0="x", x1="x", y0="lo", y1="q1", source=src, line_color="line", line_width=1.5)
    p.vbar(x="x", width="w", bottom="q1", top="q3", source=src, fill_color="fill",
           line_color="line", line_width=1.5)
    p.segment(x0="x0", x1="x1", y0="med", y1="med", source=src, line_color="line", line_width=2)
    p.scatter(x="x", y="y", source=out, size=7, fill_color="black", line_color="black")
    return p


def log_minor(lo_exp, hi_exp, skip=()):
    vals = []
    for e in range(lo_exp, hi_exp + 1):
        for k in range(1, 10):
            v = k * 10.0 ** e
            if v not in skip:
                vals.append(v)
    return vals


p1 = panel(CHLA, CHLA_OUT, 183, 8, 7, Range1d(0.0561, 1897), True, "Peri Chl-a\n(mg/m²)",
           [1, 10, 100, 1000], ["1", "10", "100", "1000"],
           minor=log_minor(-2, 3, skip=(1, 10, 100, 1000)), tick_in=18, minor_in=8, title_standoff=11)
p2 = panel(BIOV, BIOV_OUT, 185, 7, 9, Range1d(6.68e4, 1.0e10), True, "Total Peri Biov\n(µm³/cm²)",
           [1e5, 1e6, 1e7, 1e8, 1e9], ["10⁵", "10⁶", "10⁷", "10⁸", "10⁹"],
           minor=log_minor(4, 9, skip=(1e5, 1e6, 1e7, 1e8, 1e9)), tick_in=18, minor_in=8, title_standoff=28)
p3 = panel(NFIX, NFIX_OUT, 190, 12, 13, Range1d(0, 98.4), False, "% Benthic\nN-Fixers",
           [0, 25, 50, 75], ["0", "25", "50", "75"], title_standoff=38)
p4 = panel(NO3, NO3_OUT, 185, 8, 13, Range1d(0, 0.558), False, "NO3-NO2\n(mg/L)",
           [0, 0.1, 0.2, 0.3, 0.4, 0.5], ["0.0", "0.1", "0.2", "0.3", "0.4", "0.5"], title_standoff=32)
p5 = panel(SRP, SRP_OUT, 185, 7, 13, Range1d(0, 0.1807), False, "SRP\n(mg/L)",
           [0, 0.05, 0.10, 0.15], ["0.00", "0.05", "0.10", "0.15"], title_standoff=19)
p6 = panel(TEMP, TEMP_OUT, 185, 11, 13, Range1d(9.97, 25.19), False, "Water Temp.\n(C)",
           [10, 15, 20, 25], ["10", "15", "20", "25"], minor=[10.46, 10.93], minor_in=8, title_standoff=37)
p7 = panel(NFLOW, NFLOW_OUT, 182, 7, 10, Range1d(16.9, 536), True, "Normalized Flow\n(% annual Med.)",
           [30, 100, 300], ["30", "100", "300"],
           minor=log_minor(1, 2, skip=(30, 100, 300)), tick_in=18, minor_in=8, title_standoff=24)
p8 = panel(FLOW, FLOW_OUT, 178, 10, 52, Range1d(511, 41900), True, "Flow\n(cfs)",
           [1000, 10000], ["1000", "10000"],
           minor=log_minor(2, 4, skip=(1000, 10000)), tick_in=18, minor_in=8, title_standoff=-2, show_x=True)

# month legend drawn in its own narrow canvas on the right
leg = figure(width=100, height=1473, x_range=Range1d(0, 100), y_range=Range1d(1473, 0),
             output_backend="svg", toolbar_location=None, x_axis_location=None, y_axis_location=None,
             min_border=0, outline_line_color=None, background_fill_color="white", border_fill_color="white")
leg.grid.visible = False
key_h = 37.6
key_top = [631.7 + i * key_h for i in range(len(MONTHS))]
key_mid = [t + key_h / 2 for t in key_top]
leg.text(x=[13], y=[616], text=["MONTH"], text_font=value(FONT), text_font_size="20px",
         text_font_style="bold", text_baseline="middle", text_align="left", text_color="black")
leg.quad(left=[12.7] * 6, right=[51.7] * 6, top=key_top, bottom=[t + key_h for t in key_top],
         fill_color="white", line_color="#d0d0d0", line_width=2)
leg.segment(x0=[32.2] * 6, x1=[32.2] * 6, y0=[t + 3 for t in key_top], y1=[t + key_h - 3 for t in key_top],
            line_color=[EDGE[m] for m in MONTHS], line_width=1.5)
leg.quad(left=[17.7] * 6, right=[47.3] * 6, top=[c - 9.5 for c in key_mid], bottom=[c + 9.5 for c in key_mid],
         fill_color=MONTH_FILL, line_color=[EDGE[m] for m in MONTHS], line_width=1.5)
leg.segment(x0=[17.7] * 6, x1=[47.3] * 6, y0=key_mid, y1=key_mid,
            line_color=[EDGE[m] for m in MONTHS], line_width=2)
leg.text(x=[56] * 6, y=key_mid, text=[str(m) for m in MONTHS], text_font=value(FONT),
         text_font_size="20px", text_baseline="middle", text_align="left", text_color="black")

layout = row(column(p1, p2, p3, p4, p5, p6, p7, p8, spacing=0), leg, spacing=0)
open("out.html", "w").write(file_html(layout, INLINE))
